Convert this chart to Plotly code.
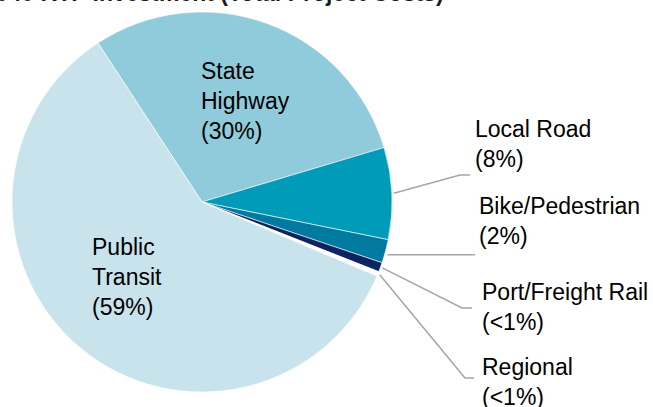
import math
import plotly.graph_objects as go

# ---- data ----
categories = ["State Highway", "Local Road", "Bike/Pedestrian", "Port/Freight Rail", "Regional", "Public Transit"]
values = [29.6, 7.8, 2.0, 0.8, 0.4, 59.4]
label_pct = ["30%", "8%", "2%", "<1%", "<1%", "59%"]
colors = ["#8FCBDB", "#009BB8", "#007A9F", "#0C2461", "#FFFFFF", "#C8E3EC"]
title_text = "2040 RTP Investment (Total Project Costs)"

W, H = 653, 407
CX, CY, R = 202, 202, 190
ROT = -33.2


def px(x):
    return x / W


def py(y):
    return 1 - y / H


fig = go.Figure(go.Pie(
    labels=categories, values=values, sort=False, direction="clockwise",
    rotation=ROT, textinfo="none", hoverinfo="label+percent",
    marker=dict(colors=colors, line=dict(color="#FFFFFF", width=0.6)),
    domain=dict(x=[px(CX - R), px(CX + R)], y=[py(CY + R), py(CY - R)]),
    showlegend=False,
))

# mid angles of each slice (degrees clockwise from 12 o'clock)
total = sum(values)
mids = []
acc = ROT
for v in values:
    ang = v / total * 360
    mids.append(acc + ang / 2)
    acc += ang


def edge(i, r=R + 2):
    a = math.radians(mids[i])
    return CX + r * math.sin(a), CY - r * math.cos(a)


line_style = dict(color="#A6A6A6", width=1.5)
shapes = []
# leader lines: (slice index, elbow point, end point)
leaders = [
    (1, (460, 175), (470, 175)),
    (2, None, (475, None)),
    (3, (462, 308), (472, 308)),
    (4, (465, 378), (474, 378)),
]
for i, elbow, end in leaders:
    sx, sy = edge(i)
    if elbow is None:
        sy += 3
        elbow = (sx, sy)
        end = (end[0], sy)
    pts = [(sx, sy), elbow, end]
    path = "M " + " L ".join(f"{px(x)} {py(y)}" for x, y in pts)
    shapes.append(dict(type="path", xref="paper", yref="paper", path=path,
                       line=line_style))

font = dict(family="Liberation Sans, Arial, sans-serif", size=23, color="#000000")
label_pos = {
    "State Highway": (199, 56, "State<br>Highway"),
    "Public Transit": (90, 232, "Public<br>Transit"),
    "Local Road": (473, 114, "Local Road"),
    "Bike/Pedestrian": (477, 191, "Bike/Pedestrian"),
    "Port/Freight Rail": (480, 277, "Port/Freight Rail"),
    "Regional": (480, 352, "Regional"),
}
annotations = []
for cat, pct in zip(categories, label_pct):
    x, y, txt = label_pos[cat]
    annotations.append(dict(
        x=px(x), y=py(y), xref="paper", yref="paper", xanchor="left", yanchor="top",
        text=f"{txt}<br>({pct})", showarrow=False, align="left", font=font))

annotations.append(dict(
    x=px(446), y=py(8), xref="paper", yref="paper", xanchor="right", yanchor="bottom",
    text=f"<b>{title_text}</b>", showarrow=False,
    font=dict(family="Liberation Sans, Arial, sans-serif", size=23, color="#1A1A1A")))

fig.update_layout(
    width=W, height=H, margin=dict(l=0, r=0, t=0, b=0),
    paper_bgcolor="#FFFFFF", plot_bgcolor="#FFFFFF",
    shapes=shapes, annotations=annotations,
)

fig.write_html(
    "out.html",
    config={"displayModeBar": False},
    post_script="document.body.style.margin='0px';document.body.style.overflow='hidden';",
)
